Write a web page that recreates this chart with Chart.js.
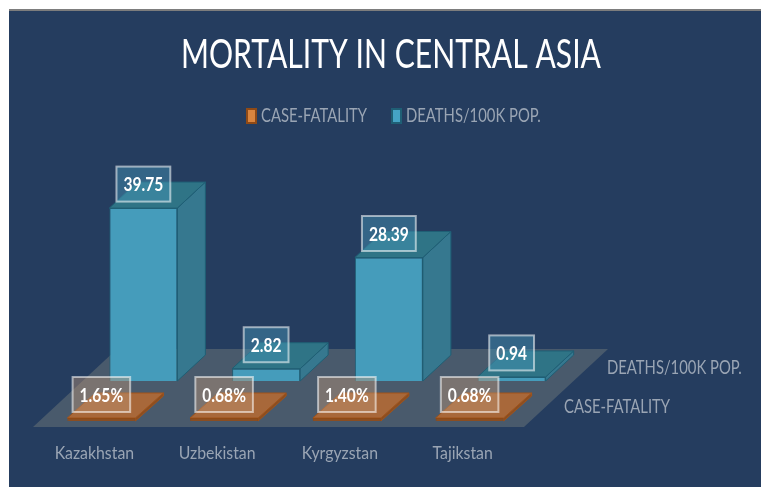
<!DOCTYPE html>
<html>
<head>
<meta charset="utf-8">
<title>Mortality in Central Asia</title>
<script src="https://cdn.jsdelivr.net/npm/chart.js@4"></script>
<style>
    html, body { margin: 0; padding: 0; background: #fff; }
    #panel { position: absolute; left: 9px; top: 9px; right: 0; bottom: 0; background: #253d5f; border-top: 2px solid #7d7d7d; }
    #wrap { position: absolute; left: 0; top: 0; width: 761px; height: 487px; }
</style>
</head>
<body>
<div id="panel"></div>
<div id="wrap"><canvas id="mortality-chart"></canvas></div>
<script>
const countries = ['Kazakhstan', 'Uzbekistan', 'Kyrgyzstan', 'Tajikstan'];
const caseFatality = [0.0165, 0.0068, 0.014, 0.0068];
const deathsPer100k = [39.75, 2.82, 28.39, 0.94];
const seriesNames = ['CASE-FATALITY', 'DEATHS/100K POP.'];

const FONT = 'Lato, "Open Sans", sans-serif';
const GREY = '#9aa5b4';

// 3D look: each series sits on its own row of the floor
const rows = [
    { dx: 7, dy: -6, depthX: 28, depthY: 25, top: '#a8683a', side: '#8a4e22', edge: '#a0531a', labelFill: 'rgba(190,150,120,0.42)', labelLift: 23.5 },
    { dx: 49, dy: -46, depthX: 28, depthY: 26, top: '#2f7486', side: '#36788f', edge: '#1f5f75', labelFill: 'rgba(70,150,185,0.45)', labelLift: 24 }
];
const floorDepth = { x: 84, y: 78 };

// the reference text is squeezed sideways, fillText's maxWidth does the same
function narrowText(ctx, text, x, y, squeeze) {
    ctx.fillText(text, x, y, ctx.measureText(text).width * squeeze);
}

function facePath(ctx, pts, fill, stroke) {
    ctx.beginPath();
    pts.forEach((p, i) => i ? ctx.lineTo(p[0], p[1]) : ctx.moveTo(p[0], p[1]));
    ctx.closePath();
    ctx.fillStyle = fill;
    ctx.fill();
    ctx.strokeStyle = stroke;
    ctx.lineWidth = 1;
    ctx.stroke();
}

const bars3d = {
    id: 'bars3d',
    afterLayout(chart) {
        // title block width is the maxWidth of its text
        chart.titleBlock.left = 181;
        chart.titleBlock.right = 601;
    },
    beforeDatasetsDraw(chart) {
        const ctx = chart.ctx;
        const a = chart.chartArea;
        ctx.save();

        // floor
        ctx.beginPath();
        ctx.moveTo(a.left, a.bottom);
        ctx.lineTo(a.right, a.bottom);
        ctx.lineTo(a.right + floorDepth.x, a.bottom - floorDepth.y);
        ctx.lineTo(a.left + floorDepth.x, a.bottom - floorDepth.y);
        ctx.closePath();
        ctx.fillStyle = '#495a6c';
        ctx.fill();

        // legend
        ctx.textBaseline = 'middle';
        ctx.textAlign = 'left';
        ctx.font = '19px ' + FONT;
        chart.data.datasets.forEach((ds, i) => {
            const x = i === 0 ? 246 : 391;
            ctx.fillStyle = ds.legendColor;
            ctx.strokeStyle = ds.borderColor;
            ctx.lineWidth = 2;
            ctx.fillRect(x + 1, 109, 9, 14);
            ctx.strokeRect(x + 1, 109, 9, 14);
            ctx.fillStyle = GREY;
            narrowText(ctx, seriesNames[i], x + 15, 116, 0.78);
        });

        // depth axis labels
        ctx.fillStyle = GREY;
        narrowText(ctx, seriesNames[1], a.right + 83, a.bottom - 59, 0.78);
        narrowText(ctx, seriesNames[0], a.right + 40, a.bottom - 20, 0.78);

        // category labels
        const xScale = chart.scales.x;
        ctx.textAlign = 'center';
        ctx.font = '18px ' + FONT;
        countries.forEach((name, i) => {
            narrowText(ctx, name, xScale.getPixelForTick(i), a.bottom + 26, 0.88);
        });
        ctx.restore();
    },
    beforeDatasetDraw(chart, args) {
        const ctx = chart.ctx;
        const r = rows[args.index];
        ctx.save();
        ctx.translate(r.dx, r.dy);
        args.meta.data.forEach(bar => {
            const left = bar.x - bar.width / 2;
            const right = bar.x + bar.width / 2;
            const d = [r.depthX, -r.depthY];
            facePath(ctx, [[right, bar.y], [right + d[0], bar.y + d[1]], [right + d[0], bar.base + d[1]], [right, bar.base]], r.side, r.edge);
            facePath(ctx, [[left, bar.y], [right, bar.y], [right + d[0], bar.y + d[1]], [left + d[0], bar.y + d[1]]], r.top, r.edge);
        });
    },
    afterDatasetDraw(chart) {
        chart.ctx.restore();
    },
    afterDatasetsDraw(chart) {
        // value boxes
        const ctx = chart.ctx;
        ctx.save();
        ctx.font = 'bold 19px ' + FONT;
        ctx.textAlign = 'center';
        ctx.textBaseline = 'middle';
        const squeeze = 0.82;
        chart.data.datasets.forEach((ds, i) => {
            const r = rows[i];
            chart.getDatasetMeta(i).data.forEach((bar, j) => {
                const text = i === 0 ? (ds.data[j] * 100).toFixed(2) + '%' : ds.data[j].toFixed(2);
                const w = ctx.measureText(text).width * squeeze + 14;
                const h = 35;
                const cx = bar.x + r.dx;
                const cy = bar.y + r.dy - r.labelLift;
                ctx.fillStyle = r.labelFill;
                ctx.fillRect(cx - w / 2, cy - h / 2, w, h);
                ctx.strokeStyle = 'rgba(255,255,255,0.55)';
                ctx.lineWidth = 2;
                ctx.strokeRect(cx - w / 2, cy - h / 2, w, h);
                ctx.fillStyle = '#fff';
                narrowText(ctx, text, cx, cy + 1, squeeze);
            });
        });
        ctx.restore();
    }
};

new Chart(document.getElementById('mortality-chart'), {
    type: 'bar',
    data: {
        labels: countries,
        datasets: [
            { label: seriesNames[0], data: caseFatality, backgroundColor: '#8a4e22', legendColor: '#d9853f', borderColor: '#8f4a16', borderWidth: 1, minBarLength: 3 },
            { label: seriesNames[1], data: deathsPer100k, backgroundColor: '#459cbb', legendColor: '#45a3c5', borderColor: '#1f5f75', borderWidth: 1, minBarLength: 3 }
        ]
    },
    plugins: [bars3d],
    options: {
        responsive: true,
        maintainAspectRatio: false,
        animation: false,
        grouped: false,
        categoryPercentage: 0.554,
        barPercentage: 1,
        layout: { padding: { left: 33, right: 237, top: 31, bottom: 52 } },
        plugins: {
            title: {
                display: true,
                text: 'MORTALITY IN CENTRAL ASIA',
                color: '#fff',
                font: { family: FONT, size: 40, weight: 'normal' },
                padding: { top: 0, bottom: 87 }
            },
            legend: { display: false },
            tooltip: { enabled: false }
        },
        scales: {
            x: {
                grid: { display: false },
                border: { display: false },
                ticks: { display: false }
            },
            y: { display: false, min: 0, max: 60 }
        }
    }
});
</script>
</body>
</html>
